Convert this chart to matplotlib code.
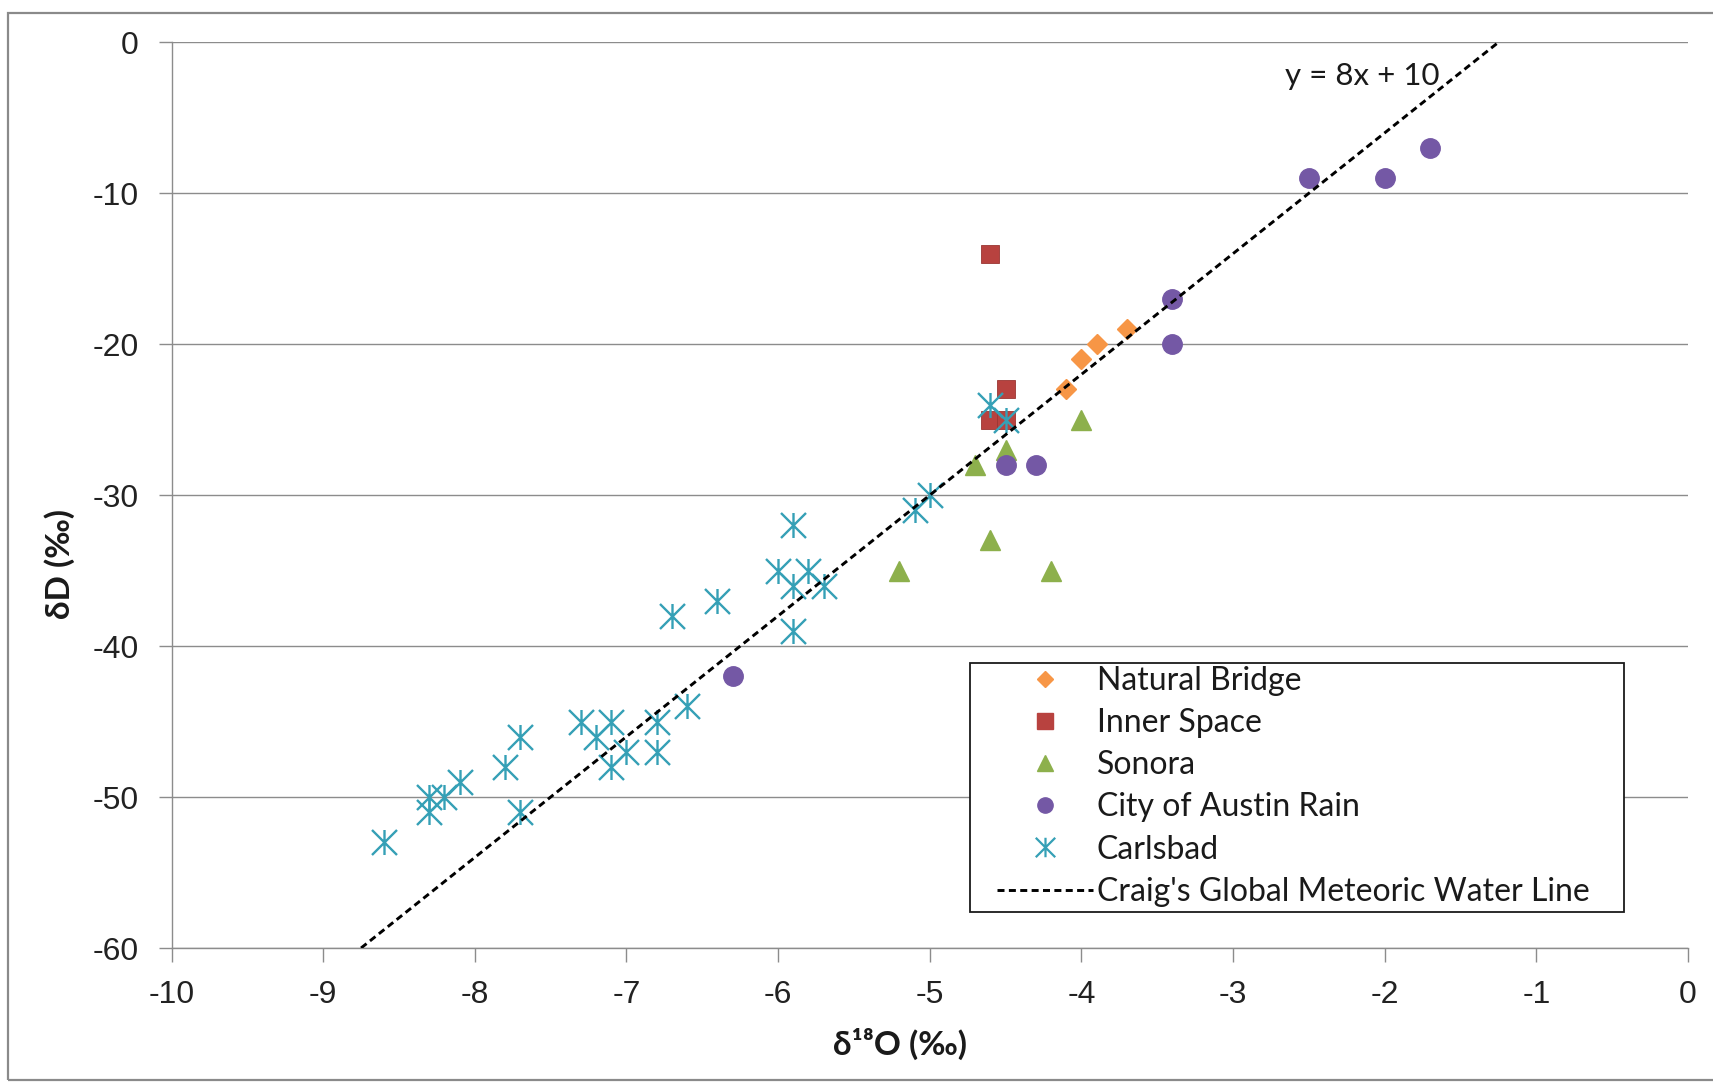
import numpy as np
import matplotlib
matplotlib.use("Agg")
import matplotlib.pyplot as plt
from matplotlib.path import Path
from matplotlib.lines import Line2D
from matplotlib.patches import Rectangle

# ---- data (δ18O, δD in per mil) ----
natural_bridge_x = [-4.1, -4.0, -3.9, -3.7]
natural_bridge_y = [-23, -21, -20, -19]

inner_space_x = [-4.6, -4.5, -4.6, -4.5]
inner_space_y = [-14, -23, -25, -25]

sonora_x = [-4.7, -4.5, -4.0, -4.6, -5.2, -4.2]
sonora_y = [-28, -27, -25, -33, -35, -35]

austin_x = [-1.7, -2.0, -2.5, -3.4, -3.4, -4.5, -4.3, -6.3]
austin_y = [-7, -9, -9, -17, -20, -28, -28, -42]

carlsbad_x = [-4.6, -4.5, -5.0, -5.1, -5.9, -6.0, -5.8, -5.9, -5.7, -5.9,
              -6.4, -6.7, -6.6, -6.8, -6.8, -7.0, -7.1, -7.1, -7.2, -7.3,
              -7.7, -7.8, -7.7, -8.1, -8.2, -8.3, -8.3, -8.6]
carlsbad_y = [-24, -25, -30, -31, -32, -35, -35, -36, -36, -39,
              -37, -38, -44, -45, -47, -47, -48, -45, -46, -45,
              -46, -48, -51, -49, -50, -50, -51, -53]

# Craig's global meteoric water line: dD = 8 * d18O + 10
gmwl_slope = 8
gmwl_intercept = 10
gmwl_x = np.array([-8.75, -1.25])
gmwl_y = gmwl_slope * gmwl_x + gmwl_intercept

x_ticks = [-10, -9, -8, -7, -6, -5, -4, -3, -2, -1, 0]
y_ticks = [0, -10, -20, -30, -40, -50, -60]

series_labels = ["Natural Bridge", "Inner Space", "Sonora",
                 "City of Austin Rain", "Carlsbad",
                 "Craig's Global Meteoric Water Line"]

# ---- styling ----
TEXT_FONT = ["Lato", "Noto Sans", "DejaVu Sans"]
TICK_FONT = ["Liberation Sans", "DejaVu Sans"]
GRID_C = "#8c8c8c"

c_orange = "#F79646"
c_red = "#B8423F"
c_green = "#8DB04C"
c_purple = "#7458A5"
c_teal = "#35A0B6"
DASH = (0, (2.4, 1.5))

# six-armed asterisk marker (vertical bar + X)
star_path = Path(
    [(0, -1), (0, 1), (-1, -1), (1, 1), (-1, 1), (1, -1)],
    [Path.MOVETO, Path.LINETO, Path.MOVETO, Path.LINETO, Path.MOVETO, Path.LINETO],
)

W, H = 1713, 1084
DPI = 100
fig = plt.figure(figsize=(W / DPI, H / DPI), dpi=DPI)
fig.patch.set_facecolor("white")

# chart-area border
fig.patches.append(Rectangle((8 / W, 1 - 1080 / H), (W + 20 - 8) / W, (1080 - 12.5) / H,
                             transform=fig.transFigure, fill=False,
                             edgecolor="#8a8a8a", linewidth=1.6, clip_on=False))

left, right, top, bottom = 171.5, 1688, 42.3, 948
ax = fig.add_axes([left / W, 1 - bottom / H, (right - left) / W, (bottom - top) / H])
ax.set_xlim(-10, 0)
ax.set_ylim(-60, 0)

# horizontal gridlines
ax.set_yticks(y_ticks)
ax.set_xticks(x_ticks)
ax.yaxis.grid(True, color=GRID_C, linewidth=1.0)
ax.xaxis.grid(False)
ax.set_axisbelow(True)
for s in ("top", "right"):
    ax.spines[s].set_visible(False)
for s in ("left", "bottom"):
    ax.spines[s].set_color(GRID_C)
    ax.spines[s].set_linewidth(1.0)

ax.tick_params(axis="y", direction="out", length=9.5, width=1.0, color=GRID_C, pad=14)
ax.tick_params(axis="x", direction="out", length=10, width=1.0, color=GRID_C, pad=13)
ax.set_yticklabels([str(v) for v in y_ticks], fontfamily=TICK_FONT, fontsize=23, color="#222222")
ax.set_xticklabels([str(v) for v in x_ticks], fontfamily=TICK_FONT, fontsize=23, color="#222222")

# data series
ax.plot(natural_bridge_x, natural_bridge_y, linestyle="none", marker="D", ms=10.5,
        color=c_orange, mec=c_orange, zorder=3)
ax.plot(inner_space_x, inner_space_y, linestyle="none", marker="s", ms=13,
        color=c_red, mec="#9a3532", mew=0.6, zorder=3)
ax.plot(sonora_x, sonora_y, linestyle="none", marker="^", ms=14,
        color=c_green, mec=c_green, zorder=3)
ax.plot(austin_x, austin_y, linestyle="none", marker="o", ms=14,
        color=c_purple, mec=c_purple, zorder=3)
ax.plot(carlsbad_x, carlsbad_y, linestyle="none", marker=star_path, ms=18,
        mfc="none", mec=c_teal, mew=1.7, zorder=3)
ax.plot(gmwl_x, gmwl_y, linestyle=DASH, color="black", linewidth=2.1, zorder=4)

ax.text(-2.15, -2.2, "y = 8x + 10", ha="center", va="center",
        fontfamily=TEXT_FONT, fontsize=22.5, color="#1a1a1a")

# axis titles
fig.text(900 / W, 1 - 1044 / H, "δ¹⁸O (‰)", ha="center", va="center",
         fontfamily=TEXT_FONT, fontsize=24, fontweight="bold", color="#1a1a1a")
fig.text(60 / W, 1 - 564 / H, "δD (‰)", ha="center", va="center", rotation=90,
         fontfamily=TEXT_FONT, fontsize=24, fontweight="bold", color="#1a1a1a")

# legend
handles = [
    Line2D([], [], linestyle="none", marker="D", ms=8, color=c_orange),
    Line2D([], [], linestyle="none", marker="s", ms=11, color=c_red),
    Line2D([], [], linestyle="none", marker="^", ms=11, color=c_green),
    Line2D([], [], linestyle="none", marker="o", ms=11, color=c_purple),
    Line2D([], [], linestyle="none", marker=star_path, ms=14, mfc="none", mec=c_teal, mew=1.6),
    Line2D([], [], linestyle=DASH, color="black", linewidth=2.1),
]
leg = fig.legend(handles, series_labels, loc="upper left",
                 bbox_to_anchor=(997 / W, 1 - 666 / H), bbox_transform=fig.transFigure,
                 frameon=False, borderpad=0, borderaxespad=0,
                 prop={"family": TEXT_FONT, "size": 23},
                 handlelength=3.0, handletextpad=0.12, labelspacing=0.38)
for t in leg.get_texts():
    t.set_color("#1a1a1a")
fig.patches.append(Rectangle((970 / W, 1 - 912 / H), (1624 - 970) / W, (912 - 663) / H,
                             transform=fig.transFigure, facecolor="white",
                             edgecolor="#1a1a1a", linewidth=1.3, zorder=5))
leg.set_zorder(6)

fig.savefig("out.png", dpi=DPI, facecolor="white")
